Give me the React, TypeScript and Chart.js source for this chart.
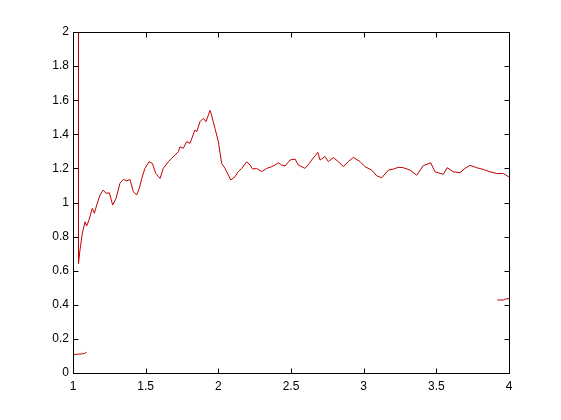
import React, { useEffect, useRef } from "react";
import { Chart, registerables } from "chart.js";

Chart.register(...registerables);

// Main trace (x, y)
const mainX = [
  1.0378, 1.0378, 1.048, 1.064, 1.083, 1.094, 1.11, 1.133, 1.147, 1.163, 1.186, 1.208, 1.227,
  1.25, 1.273, 1.296, 1.323, 1.346, 1.37, 1.392, 1.415, 1.438, 1.456, 1.473, 1.495, 1.523,
  1.546, 1.569, 1.599, 1.621, 1.656, 1.679, 1.702, 1.725, 1.736, 1.759, 1.782, 1.805, 1.839,
  1.851, 1.874, 1.897, 1.915, 1.943, 1.951, 1.977, 2.0, 2.023, 2.046, 2.069, 2.085, 2.115,
  2.137, 2.161, 2.195, 2.218, 2.236, 2.264, 2.298, 2.333, 2.367, 2.39, 2.413, 2.436, 2.459,
  2.493, 2.528, 2.55, 2.596, 2.626, 2.642, 2.684, 2.7, 2.734, 2.757, 2.791, 2.826, 2.86,
  2.894, 2.929, 2.975, 3.009, 3.055, 3.09, 3.124, 3.17, 3.204, 3.238, 3.273, 3.319, 3.365,
  3.41, 3.461, 3.491, 3.548, 3.575, 3.617, 3.663, 3.697, 3.732, 3.778, 3.823, 3.869, 3.915,
  3.961, 4.0,
];
const mainY = [
  3.0, 0.643, 0.721, 0.819, 0.887, 0.862, 0.897, 0.966, 0.937, 0.985, 1.044, 1.073, 1.054,
  1.057, 0.985, 1.024, 1.112, 1.135, 1.127, 1.135, 1.064, 1.044, 1.083, 1.141, 1.2, 1.239,
  1.229, 1.171, 1.141, 1.2, 1.239, 1.259, 1.279, 1.298, 1.327, 1.318, 1.357, 1.347, 1.425,
  1.415, 1.474, 1.494, 1.474, 1.54, 1.52, 1.435, 1.357, 1.229, 1.2, 1.161, 1.132, 1.151,
  1.181, 1.2, 1.239, 1.22, 1.196, 1.2, 1.181, 1.2, 1.21, 1.22, 1.233, 1.22, 1.214,
  1.249, 1.255, 1.22, 1.2, 1.229, 1.249, 1.294, 1.249, 1.27, 1.24, 1.263, 1.24, 1.21,
  1.24, 1.265, 1.24, 1.21, 1.19, 1.157, 1.145, 1.19, 1.196, 1.206, 1.204, 1.19, 1.16,
  1.216, 1.233, 1.18, 1.165, 1.204, 1.18, 1.175, 1.2, 1.218, 1.204, 1.194, 1.18, 1.17,
  1.17, 1.15,
];

// Short segment, lower left
const lowX = [1.0, 1.03, 1.06, 1.08, 1.094];
const lowY = [0.108, 0.11, 0.112, 0.115, 0.122];

// Short segment, right edge
const rightX = [3.92, 3.96, 3.975, 4.0];
const rightY = [0.428, 0.428, 0.434, 0.436];

const xTicks = [1, 1.5, 2, 2.5, 3, 3.5, 4];
const yTicks = [0, 0.2, 0.4, 0.6, 0.8, 1, 1.2, 1.4, 1.6, 1.8, 2];

const LINE_COLOR = "#c00000";

const zip = (xs: number[], ys: number[]) => xs.map((x, i) => ({ x, y: ys[i] }));

const boxPlugin = {
  id: "matlabBox",
  afterDraw(chart: any) {
    const { ctx, chartArea, scales } = chart;
    const { left, right, top, bottom } = chartArea;
    const L = Math.round(left) + 0.5;
    const R = Math.round(right) + 0.5;
    const T = Math.round(top) + 0.5;
    const B = Math.round(bottom) + 0.5;
    ctx.save();
    ctx.strokeStyle = "#000";
    ctx.lineWidth = 1;
    ctx.beginPath();
    ctx.rect(L, T, R - L, B - T);
    const tl = 5;
    xTicks.forEach((v) => {
      const px = Math.round(scales.x.getPixelForValue(v)) + 0.5;
      ctx.moveTo(px, B);
      ctx.lineTo(px, B - tl);
      ctx.moveTo(px, T);
      ctx.lineTo(px, T + tl);
    });
    yTicks.forEach((v) => {
      const py = Math.round(scales.y.getPixelForValue(v)) + 0.5;
      ctx.moveTo(L, py);
      ctx.lineTo(L + tl, py);
      ctx.moveTo(R, py);
      ctx.lineTo(R - tl, py);
    });
    ctx.stroke();
    ctx.restore();
  },
};

const fmt = (v: number) => String(Math.round(v * 10) / 10);

export default function App() {
  const ref = useRef<HTMLCanvasElement | null>(null);
  useEffect(() => {
    document.body.style.margin = "0";
    const canvas = ref.current!;
    const ds = (data: { x: number; y: number }[]) => ({
      data,
      borderColor: LINE_COLOR,
      borderWidth: 1,
      pointRadius: 0,
      tension: 0,
      fill: false,
    });
    const chart = new Chart(canvas, {
      type: "line",
      data: {
        datasets: [ds(zip(mainX, mainY)), ds(zip(lowX, lowY)), ds(zip(rightX, rightY))],
      },
      plugins: [boxPlugin],
      options: {
        animation: false,
        responsive: false,
        devicePixelRatio: 1,
        layout: { padding: { left: 0, top: 32, right: 52, bottom: 0 } },
        plugins: { legend: { display: false }, tooltip: { enabled: false } },
        scales: {
          x: {
            type: "linear",
            min: 1,
            max: 4,
            grid: { display: false, drawTicks: false },
            border: { display: false },
            afterBuildTicks: (s: any) => {
              s.ticks = xTicks.map((v) => ({ value: v }));
            },
            afterFit: (s: any) => {
              s.height = 47;
            },
            ticks: {
              padding: 6,
              maxRotation: 0,
              color: "#000",
              font: { family: "Liberation Sans", size: 12 },
              callback: (v: any) => fmt(Number(v)),
            },
          },
          y: {
            type: "linear",
            min: 0,
            max: 2,
            grid: { display: false, drawTicks: false },
            border: { display: false },
            afterBuildTicks: (s: any) => {
              s.ticks = yTicks.map((v) => ({ value: v }));
            },
            afterFit: (s: any) => {
              s.width = 73;
            },
            ticks: {
              padding: 4,
              color: "#000",
              font: { family: "Liberation Sans", size: 12 },
              callback: (v: any) => fmt(Number(v)),
            },
          },
        },
      },
    });
    return () => chart.destroy();
  }, []);
  return (
    <div style={{ width: 561, height: 420, background: "#fff" }}>
      <canvas ref={ref} width={561} height={420} style={{ display: "block" }} />
    </div>
  );
}
